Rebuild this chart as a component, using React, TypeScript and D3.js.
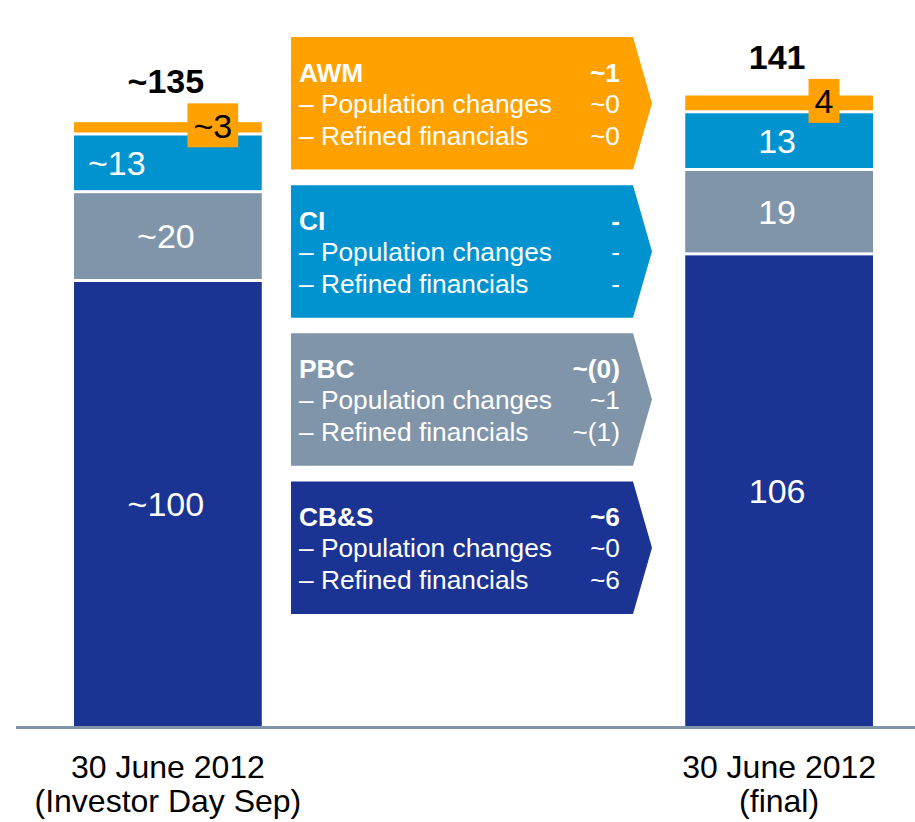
import React, { useRef, useEffect } from 'react';
import * as d3 from 'd3';

// stacked bars: bottom -> top (CB&S, PBC, CI, AWM)
const barCategories = ['30 June 2012\n(Investor Day Sep)', '30 June 2012\n(final)'];
const segmentNames = ['CB&S', 'PBC', 'CI', 'AWM'];
const leftValues = [100, 20, 13, 3];
const rightValues = [106, 19, 13, 4];
const leftLabels = ['~100', '~20', '~13', '~3'];
const rightLabels = ['106', '19', '13', '4'];
const totalLabels = ['~135', '141'];

// bridge boxes in the middle: top -> bottom
const boxNames = ['AWM', 'CI', 'PBC', 'CB&S'];
const boxTotals = ['~1', '-', '~(0)', '~6'];
const boxPopulation = ['~0', '-', '~1', '~0'];
const boxRefined = ['~0', '-', '~(1)', '~6'];
const rowLabels = ['– Population changes', '– Refined financials'];

const colors = ['#1b3393', '#8095a9', '#0093d0', '#ffa100'];
const boxColors = ['#ffa100', '#0093d0', '#8095a9', '#1b3393'];

const FONT = '"Liberation Sans", Arial, sans-serif';

export default function App() {
  const svgRef = useRef<SVGSVGElement>(null);

  useEffect(() => {
    if (!svgRef.current) return;
    const svg = d3.select(svgRef.current);
    svg.selectAll('*').remove();

    const width = 915;
    const height = 822;
    const baseY = 726;

    const x = d3.scaleBand<number>()
      .domain([0, 1])
      .range([74, 873])
      .paddingInner(0.6928)
      .paddingOuter(0);

    const y = d3.scaleLinear()
      .domain([0, 142])
      .range([baseY, baseY - 142 * 4.44]);

    svg.attr('width', width).attr('height', height).style('font-family', FONT);

    // axis line
    svg.append('line')
      .attr('x1', 16).attr('x2', width)
      .attr('y1', 727.5).attr('y2', 727.5)
      .attr('stroke', '#8095a9')
      .attr('stroke-width', 3);

    const series = [leftValues, rightValues];
    const labels = [leftLabels, rightLabels];
    const gap = 3;

    series.forEach((vals, bi) => {
      const bx = x(bi) as number;
      const bw = x.bandwidth();
      let cum = 0;
      let topY = baseY;
      vals.forEach((v, si) => {
        const y0 = y(cum);
        const y1 = y(cum + v);
        const h = y0 - y1 - (si > 0 ? gap : 0);
        svg.append('rect')
          .attr('x', bx).attr('width', bw)
          .attr('y', y1).attr('height', Math.max(h, 1))
          .attr('fill', colors[si]);
        const cy = y1 + h / 2;

        if (si < vals.length - 1) {
          const shiftLeft = bi === 0 && si === 2;
          svg.append('text')
            .attr('x', shiftLeft ? bx + 14 : bx + bw / 2 - 2)
            .attr('y', cy)
            .attr('dy', '0.36em')
            .attr('text-anchor', shiftLeft ? 'start' : 'middle')
            .attr('fill', '#ffffff')
            .attr('font-size', 34)
            .text(labels[bi][si]);
        } else {
          // top segment value in a box
          const t = svg.append('text')
            .attr('x', bx + bw - 49)
            .attr('y', cy - 2)
            .attr('dy', '0.36em')
            .attr('text-anchor', 'middle')
            .attr('fill', '#000000')
            .attr('font-size', 34)
            .text(labels[bi][si]);
          const tw = (t.node() as SVGTextElement).getComputedTextLength();
          const boxW = tw + 12;
          const boxH = 44;
          svg.insert('rect', () => t.node() as any)
            .attr('x', bx + bw - 49 - boxW / 2)
            .attr('y', cy - 2 - boxH / 2)
            .attr('width', boxW)
            .attr('height', boxH)
            .attr('fill', colors[si]);
          topY = cy - 2 - boxH / 2;
        }
        cum += v;
      });

      // total
      svg.append('text')
        .attr('x', bx + bw / 2 - 2)
        .attr('y', topY - 10)
        .attr('text-anchor', 'middle')
        .attr('font-weight', 'bold')
        .attr('font-size', 34)
        .attr('fill', '#000000')
        .text(totalLabels[bi]);

      // category label
      barCategories[bi].split('\n').forEach((line, li) => {
        svg.append('text')
          .attr('x', bx + bw / 2)
          .attr('y', 778 + li * 34)
          .attr('text-anchor', 'middle')
          .attr('font-size', 32)
          .attr('fill', '#000000')
          .text(line);
      });
    });

    // bridge boxes
    const boxY = d3.scaleBand<number>()
      .domain(d3.range(boxNames.length))
      .range([37, 614])
      .paddingInner(0.105)
      .paddingOuter(0);
    const bl = 291;
    const br = 633;
    const tip = 652;
    boxNames.forEach((name, i) => {
      const top = boxY(i) as number;
      const bh = boxY.bandwidth();
      const path = d3.path();
      path.moveTo(bl, top);
      path.lineTo(br, top);
      path.lineTo(tip, top + bh / 2);
      path.lineTo(br, top + bh);
      path.lineTo(bl, top + bh);
      path.closePath();
      svg.append('path').attr('d', path.toString()).attr('fill', boxColors[i]);

      const g = svg.append('g').attr('fill', '#ffffff').attr('font-size', 26.3);
      g.append('text').attr('x', 299).attr('y', top + 45).attr('font-weight', 'bold').text(name);
      g.append('text').attr('x', 620).attr('y', top + 45).attr('font-weight', 'bold')
        .attr('text-anchor', 'end').text(boxTotals[i]);
      g.append('text').attr('x', 299).attr('y', top + 76).text(rowLabels[0]);
      g.append('text').attr('x', 620).attr('y', top + 76).attr('text-anchor', 'end').text(boxPopulation[i]);
      g.append('text').attr('x', 299).attr('y', top + 108).text(rowLabels[1]);
      g.append('text').attr('x', 620).attr('y', top + 108).attr('text-anchor', 'end').text(boxRefined[i]);
    });
  }, []);

  return (
    <div style={{ position: 'absolute', left: 0, top: 0, width: 915, height: 822, background: '#ffffff' }}>
      <svg ref={svgRef} style={{ display: 'block' }}></svg>
    </div>
  );
}
